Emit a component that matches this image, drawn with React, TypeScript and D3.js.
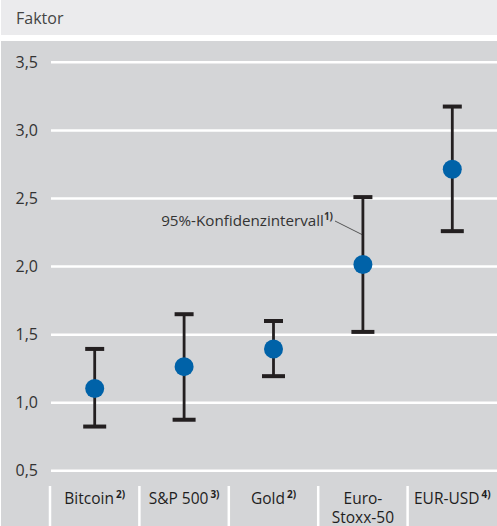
import React from "react";
import * as d3 from "d3";

const categories = ["Bitcoin", "S&P 500", "Gold", "Euro-Stoxx-50", "EUR-USD"];
const labelLines = [["Bitcoin"], ["S&P 500"], ["Gold"], ["Euro-", "Stoxx-50"], ["EUR-USD"]];
const labelNotes = ["2)", "3)", "2)", "", "4)"];
const pointValues = [1.105, 1.265, 1.395, 2.015, 2.715];
const lowerValues = [0.825, 0.875, 1.195, 1.52, 2.26];
const upperValues = [1.395, 1.65, 1.6, 2.51, 3.175];
const yTicks = [0.5, 1.0, 1.5, 2.0, 2.5, 3.0, 3.5];

const W = 497;
const H = 526;
const FONT = "'Open Sans', 'DejaVu Sans', sans-serif";

export default function App() {
  const x = d3.scaleBand<string>().domain(categories).range([50, 497]).padding(0);
  const y = d3.scaleLinear().domain([0.5, 3.5]).range([470.8, 62.3]);
  const fmt = (v: number) => d3.format(".1f")(v).replace(".", ",");
  const bw = x.bandwidth();

  const es = x("Euro-Stoxx-50")! + bw / 2;

  return (
    <svg width={W} height={H} style={{ position: "absolute", left: 0, top: 0 }} fontFamily={FONT}>
      <rect x={0} y={0} width={W} height={H} fill="#ffffff" />
      <rect x={1} y={0} width={W - 1} height={35} fill="#ebebed" />
      <text x={16} y={24} fontSize={16} fill="#444">Faktor</text>
      <rect x={1} y={41} width={W - 1} height={H - 41} fill="#d4d5d7" />

      {yTicks.map((t) => (
        <g key={t}>
          <line x1={51} x2={W} y1={y(t)} y2={y(t)} stroke="#ffffff" strokeWidth={2.5} />
          <text x={38} y={y(t) + 5.5} textAnchor="end" fontSize={16} fill="#333">{fmt(t)}</text>
        </g>
      ))}

      {categories.map((c) => (
        <line key={"sep" + c} x1={x(c)!} x2={x(c)!} y1={486} y2={H} stroke="#ffffff" strokeWidth={2.5} />
      ))}

      {categories.map((c, i) => {
        const cx = x(c)! + bw / 2;
        const lines = labelLines[i];
        return (
          <text key={"lab" + c} textAnchor="middle" fontSize={15.5} fill="#1e1e1e" fontWeight={500}>
            {lines.map((l, j) => (
              <tspan key={j} x={cx} y={503.5 + j * 19.5}>
                {l}
                {j === lines.length - 1 && labelNotes[i] ? (
                  <tspan fontSize={10} fontWeight="bold" dy={-6} dx={2}>{labelNotes[i]}</tspan>
                ) : null}
              </tspan>
            ))}
          </text>
        );
      })}

      <line x1={335} y1={221} x2={es - 1} y2={234.5} stroke="#333" strokeWidth={0.8} />
      <text x={333} y={226} textAnchor="end" fontSize={15.2} fill="#333">
        95%-Konfidenzintervall
        <tspan fontSize={10} fontWeight="bold" dy={-6}>1)</tspan>
      </text>

      {categories.map((c, i) => {
        const cx = x(c)! + bw / 2;
        return (
          <g key={"eb" + c}>
            <line x1={cx} x2={cx} y1={y(upperValues[i])} y2={y(lowerValues[i])} stroke="#231f20" strokeWidth={2.8} />
            <line x1={cx - 9.5} x2={cx + 9.5} y1={y(upperValues[i])} y2={y(upperValues[i])} stroke="#231f20" strokeWidth={4} />
            <line x1={cx - 11.5} x2={cx + 11.5} y1={y(lowerValues[i])} y2={y(lowerValues[i])} stroke="#231f20" strokeWidth={4} />
            <circle cx={cx} cy={y(pointValues[i])} r={9.5} fill="#0062a8" />
          </g>
        );
      })}
    </svg>
  );
}
